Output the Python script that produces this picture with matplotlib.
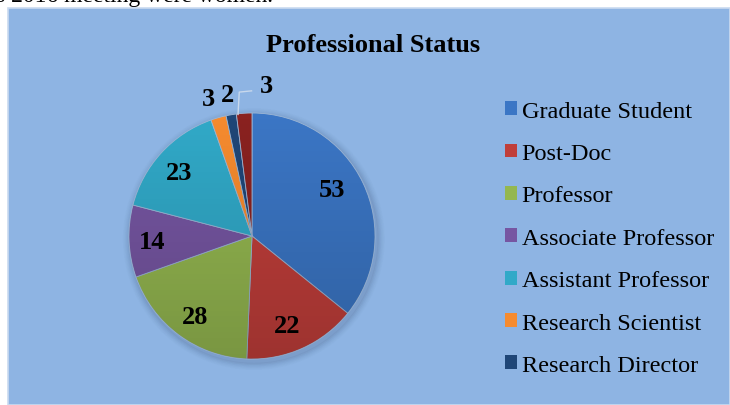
import matplotlib
matplotlib.use("Agg")
import matplotlib.pyplot as plt
import numpy as np
from matplotlib.patches import Rectangle, Patch

categories = ["Graduate Student", "Post-Doc", "Professor", "Associate Professor",
              "Assistant Professor", "Research Scientist", "Research Director", "Other"]
values = [53, 22, 28, 14, 23, 3, 2, 3]
colors = ["#3B76C5", "#C03E3A", "#94B750", "#7656A2", "#31A9C8", "#F68B2F", "#1F4677", "#8A2220"]
legend_count = 7

W, H = 730, 406
fig = plt.figure(figsize=(W / 100, H / 100), dpi=100)
fig.patch.set_facecolor("white")

# chart area background
bg = Rectangle((8 / W, 0), 1 - 8 / W, (H - 9) / H, transform=fig.transFigure,
               facecolor="#8EB4E3", edgecolor="#C9DAF0", linewidth=1.2, zorder=-5)
fig.patches.append(bg)

# cut-off text line at the top
fig.text(-4 / W, 1 - 2 / H, "s 2016 meeting were women.", fontfamily="Liberation Serif",
         fontsize=17, va="baseline", ha="left", color="black")

fig.text(373 / W, 1 - 46 / H, "Professional Status", fontfamily="Liberation Serif",
         fontsize=19, fontweight="bold", ha="center", va="center")

cx, cy, r = 252, 237, 123
m = 1.3  # axes half-extent in pie-radius units
ax = fig.add_axes([(cx - m * r) / W, (H - cy - m * r) / H, 2 * m * r / W, 2 * m * r / H])
ax.set_zorder(2)
ax.patch.set_alpha(0)
ax.axis("off")

# soft shadow
for i, a in enumerate(np.linspace(0.06, 0.01, 5)):
    sh = plt.Circle((0.015, -0.025), 1.0 + 0.012 * (i + 1), color="#2a3f5f", alpha=a, zorder=0)
    ax.add_patch(sh)

wedges, _ = ax.pie(values, colors=colors, startangle=90, counterclock=False, radius=1.0,
                   wedgeprops=dict(linewidth=0.6, edgecolor="#9DB7D6"))
for w in wedges:
    w.set_zorder(2)

# subtle gradient shading: darken lower part
grad = np.linspace(0, 1, 256).reshape(-1, 1)
im = ax.imshow(grad, extent=[-1, 1, -1, 1], cmap=matplotlib.colors.LinearSegmentedColormap.from_list(
    "g", [(0, 0, 0, 0.18), (0, 0, 0, 0.0)]), origin="lower", zorder=3, aspect="auto")
circ = plt.Circle((0, 0), 1.0, transform=ax.transData)
im.set_clip_path(circ)
ax.set_xlim(-m, m)
ax.set_ylim(-m, m)
ax.set_aspect("equal")

label_font = dict(fontfamily="Liberation Serif", fontsize=19, fontweight="bold", color="black",
                  ha="center", va="center", zorder=5)
# (radius, angle shift) for each label
label_place = [(0.75, 4.5), (0.785, -3), (0.80, 1), (0.81, 1), (0.79, 1.4),
               (1.17, 2), (1.17, 0), (1.23, -9)]
for w, v, (lr, da) in zip(wedges, values, label_place):
    mid = np.deg2rad((w.theta1 + w.theta2) / 2 + da)
    ax.text(lr * np.cos(mid), lr * np.sin(mid), str(v), **label_font, clip_on=False)

# leader line for last slice
wl = wedges[-1]
mid = np.deg2rad((wl.theta1 + wl.theta2) / 2)
x0, y0 = 1.0 * np.cos(mid), 1.0 * np.sin(mid)
ax.plot([x0 - 0.05, x0 - 0.04, x0 + 0.06], [y0 - 0.01, 1.17, 1.18], color="#C8D8EC",
        linewidth=1.0, zorder=4, clip_on=False)

# legend
handles = [Patch(facecolor=c, edgecolor="none") for c in colors[:legend_count]]
leg = fig.legend(handles, categories[:legend_count], loc="upper left",
                 bbox_to_anchor=(495 / W, 1 - 92 / H), frameon=False,
                 prop=dict(family="Liberation Serif", size=17.5),
                 handlelength=0.5, handleheight=0.5, handletextpad=0.2,
                 labelspacing=0.88, borderaxespad=0)

fig.savefig("out.png", dpi=100, facecolor="white")
